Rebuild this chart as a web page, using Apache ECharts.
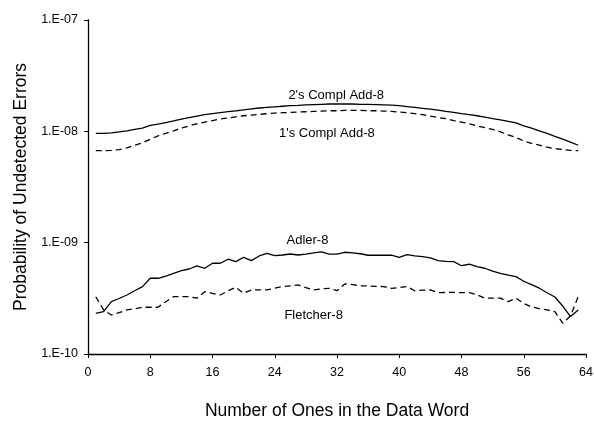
<!DOCTYPE html>
<html>
<head>
<meta charset="utf-8">
<script src="https://cdn.jsdelivr.net/npm/echarts@6/dist/echarts.min.js"></script>
<style>
  html, body { margin: 0; padding: 0; background: #fff; }
  #chart { width: 594px; height: 421px; }
</style>
</head>
<body>
<div id="chart"></div>
<script>
// Number of ones in the 64-bit data word
const onesCount = [
  1, 2, 3, 4, 5, 6, 7, 8, 9, 10, 11, 12, 13, 14, 15, 16,
  17, 18, 19, 20, 21, 22, 23, 24, 25, 26, 27, 28, 29, 30, 31, 32,
  33, 34, 35, 36, 37, 38, 39, 40, 41, 42, 43, 44, 45, 46, 47, 48,
  49, 50, 51, 52, 53, 54, 55, 56, 57, 58, 59, 60, 61, 62, 63
];

// Probability of undetected errors for each checksum
const twosComplAdd8 = [
  9.6e-9, 9.6e-9, 9.7e-9, 9.9e-9, 1.01e-8, 1.04e-8, 1.07e-8, 1.13e-8,
  1.16e-8, 1.20e-8, 1.24e-8, 1.29e-8, 1.33e-8, 1.37e-8, 1.41e-8, 1.44e-8,
  1.47e-8, 1.50e-8, 1.53e-8, 1.56e-8, 1.59e-8, 1.62e-8, 1.64e-8, 1.66e-8,
  1.68e-8, 1.70e-8, 1.71e-8, 1.73e-8, 1.74e-8, 1.75e-8, 1.76e-8, 1.76e-8,
  1.76e-8, 1.76e-8, 1.75e-8, 1.75e-8, 1.74e-8, 1.73e-8, 1.72e-8, 1.70e-8,
  1.67e-8, 1.64e-8, 1.61e-8, 1.58e-8, 1.55e-8, 1.51e-8, 1.48e-8, 1.44e-8,
  1.41e-8, 1.38e-8, 1.34e-8, 1.30e-8, 1.27e-8, 1.23e-8, 1.19e-8, 1.12e-8,
  1.07e-8, 1.01e-8, 9.6e-9, 9.0e-9, 8.5e-9, 8.0e-9, 7.5e-9
];

const onesComplAdd8 = [
  6.7e-9, 6.7e-9, 6.75e-9, 6.85e-9, 7.1e-9, 7.5e-9, 7.9e-9, 8.5e-9,
  9.1e-9, 9.6e-9, 1.01e-8, 1.07e-8, 1.12e-8, 1.17e-8, 1.21e-8, 1.25e-8,
  1.29e-8, 1.32e-8, 1.35e-8, 1.38e-8, 1.40e-8, 1.42e-8, 1.44e-8, 1.46e-8,
  1.47e-8, 1.48e-8, 1.49e-8, 1.50e-8, 1.51e-8, 1.52e-8, 1.53e-8, 1.53e-8,
  1.54e-8, 1.54e-8, 1.54e-8, 1.53e-8, 1.53e-8, 1.52e-8, 1.51e-8, 1.49e-8,
  1.47e-8, 1.44e-8, 1.41e-8, 1.37e-8, 1.33e-8, 1.30e-8, 1.25e-8, 1.21e-8,
  1.17e-8, 1.12e-8, 1.08e-8, 1.04e-8, 9.9e-9, 9.3e-9, 8.8e-9, 8.2e-9,
  7.8e-9, 7.5e-9, 7.2e-9, 7.0e-9, 6.85e-9, 6.75e-9, 6.7e-9
];

const adler8 = [
  2.32e-10, 2.40e-10, 2.95e-10, 3.15e-10, 3.39e-10, 3.70e-10, 4.03e-10, 4.79e-10,
  4.79e-10, 5.00e-10, 5.30e-10, 5.60e-10, 5.80e-10, 6.18e-10, 5.89e-10, 6.53e-10,
  6.53e-10, 7.10e-10, 6.75e-10, 7.39e-10, 6.89e-10, 7.60e-10, 8.03e-10, 7.64e-10,
  7.75e-10, 7.91e-10, 7.75e-10, 7.90e-10, 8.10e-10, 8.25e-10, 7.90e-10, 7.90e-10,
  8.20e-10, 8.10e-10, 7.95e-10, 7.71e-10, 7.71e-10, 7.71e-10, 7.71e-10, 7.39e-10,
  7.80e-10, 7.60e-10, 7.48e-10, 7.29e-10, 6.89e-10, 6.80e-10, 6.75e-10, 6.21e-10,
  6.40e-10, 6.09e-10, 5.89e-10, 5.55e-10, 5.30e-10, 5.10e-10, 4.95e-10, 4.50e-10,
  4.20e-10, 3.90e-10, 3.55e-10, 3.25e-10, 2.70e-10, 2.17e-10, 2.49e-10
];

const fletcher8 = [
  3.27e-10, 2.49e-10, 2.24e-10, 2.35e-10, 2.49e-10, 2.55e-10, 2.63e-10, 2.63e-10,
  2.63e-10, 2.95e-10, 3.27e-10, 3.27e-10, 3.27e-10, 3.17e-10, 3.63e-10, 3.50e-10,
  3.39e-10, 3.70e-10, 3.97e-10, 3.51e-10, 3.76e-10, 3.76e-10, 3.76e-10, 3.90e-10,
  4.03e-10, 4.10e-10, 4.17e-10, 3.95e-10, 3.76e-10, 3.85e-10, 3.89e-10, 3.70e-10,
  4.26e-10, 4.20e-10, 4.10e-10, 4.08e-10, 4.05e-10, 4.03e-10, 3.89e-10, 3.95e-10,
  4.03e-10, 3.70e-10, 3.75e-10, 3.76e-10, 3.56e-10, 3.57e-10, 3.57e-10, 3.56e-10,
  3.56e-10, 3.40e-10, 3.17e-10, 3.17e-10, 3.17e-10, 2.95e-10, 3.17e-10, 2.85e-10,
  2.65e-10, 2.55e-10, 2.49e-10, 2.40e-10, 1.89e-10, 2.19e-10, 3.27e-10
];

// Series names and where each name is written, in data units [ones, probability]
const seriesNames = ["2's Compl Add-8", "1's Compl Add-8", 'Adler-8', 'Fletcher-8'];
const nameAnchors = [[31.9, 2.12e-8], [30.7, 9.66e-9], [28.2, 1.057e-9], [29.0, 2.24e-10]];

const xTicks = [0, 8, 16, 24, 32, 40, 48, 56, 64];

const FONT = '"Liberation Sans", Arial, sans-serif';

function pairs(values) {
  return onesCount.map((n, i) => [n, values[i]]);
}

function lineSeries(idx, values, dashed) {
  return {
    name: seriesNames[idx],
    type: 'line',
    data: pairs(values),
    showSymbol: false,
    symbol: 'none',
    silent: true,
    animation: false,
    lineStyle: {
      color: '#000',
      width: 1.3,
      type: dashed ? [6, 4] : 'solid'
    },
    markPoint: {
      symbol: 'circle',
      symbolSize: 0,
      silent: true,
      animation: false,
      label: {
        show: true,
        position: 'inside',
        formatter: seriesNames[idx],
        color: '#000',
        fontFamily: FONT,
        fontSize: 13
      },
      data: [{ coord: nameAnchors[idx] }]
    }
  };
}

function sciLabel(v) {
  const e = Math.round(Math.log10(v));
  const mag = Math.abs(e);
  return '1.E' + (e < 0 ? '-' : '+') + (mag < 10 ? '0' + mag : String(mag));
}

const chart = echarts.init(document.getElementById('chart'), null, { renderer: 'canvas' });

chart.setOption({
  animation: false,
  backgroundColor: '#fff',
  grid: { left: 88, right: 8, top: 20, bottom: 67, containLabel: false, outerBoundsMode: 'none' },
  xAxis: {
    type: 'value',
    min: xTicks[0],
    max: xTicks[xTicks.length - 1],
    interval: 8,
    name: 'Number of Ones in the Data Word',
    nameLocation: 'middle',
    nameGap: 48,
    nameTextStyle: { color: '#000', fontFamily: FONT, fontSize: 17.5 },
    axisLine: { show: true, lineStyle: { color: '#000', width: 1.3 } },
    axisTick: { show: true, inside: false, length: 4, lineStyle: { color: '#000', width: 1 } },
    axisLabel: { color: '#000', fontFamily: FONT, fontSize: 12.5, margin: 12 },
    splitLine: { show: false }
  },
  yAxis: {
    type: 'log',
    logBase: 10,
    min: 1e-10,
    max: 1e-7,
    name: 'Probability of Undetected Errors',
    nameLocation: 'middle',
    nameGap: 56,
    nameTextStyle: { color: '#000', fontFamily: FONT, fontSize: 17.5 },
    axisLine: { show: true, lineStyle: { color: '#000', width: 1.3 } },
    axisTick: { show: true, inside: false, length: 4, lineStyle: { color: '#000', width: 1 } },
    axisLabel: { color: '#000', fontFamily: FONT, fontSize: 12.5, margin: 10, formatter: sciLabel },
    splitLine: { show: false },
    minorTick: { show: false }
  },
  series: [
    lineSeries(0, twosComplAdd8, false),
    lineSeries(1, onesComplAdd8, true),
    lineSeries(2, adler8, false),
    lineSeries(3, fletcher8, true)
  ]
});
</script>
</body>
</html>
